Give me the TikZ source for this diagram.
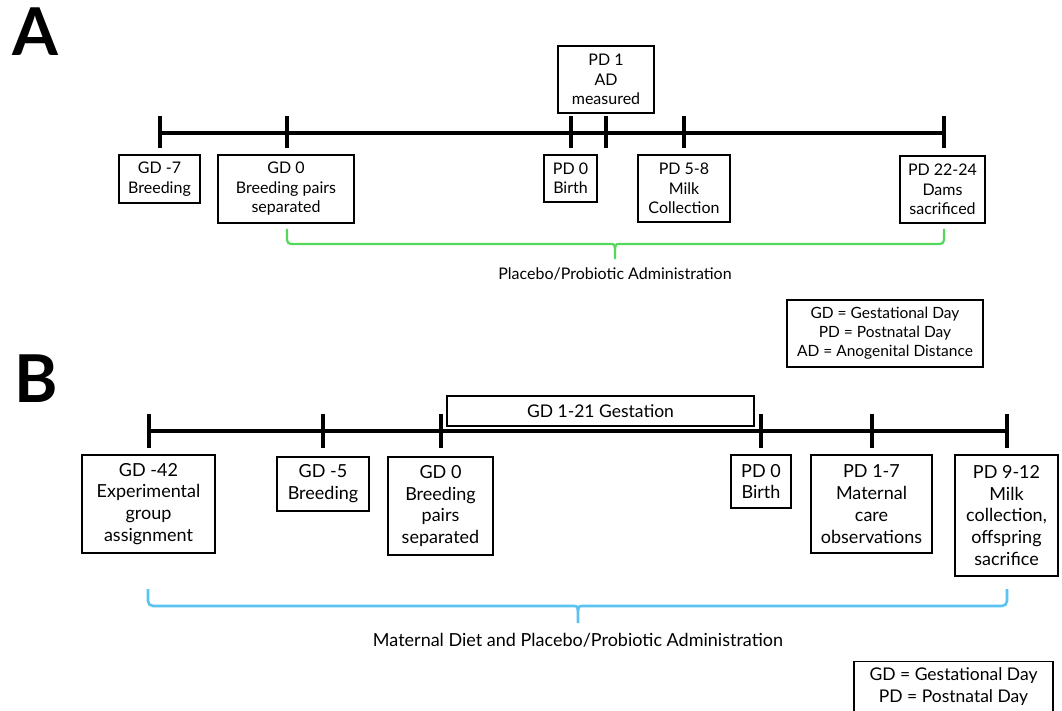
\documentclass[tikz,border=0pt]{standalone}
\usepackage{fontspec}
\setmainfont{Lato}
\begin{document}
\begin{tikzpicture}[x=1pt,y=-1pt,
  tl/.style={line width=4pt, black},
  tk/.style={line width=3.5pt, black},
  boxA/.style={draw, line width=1.4pt, align=center, inner sep=0pt,
    font=\fontsize{16}{19.5}\selectfont},
  boxB/.style={draw, line width=1.4pt, align=center, inner sep=0pt,
    font=\fontsize{18}{21.8}\selectfont},
  gbrace/.style={line width=2.2pt, color={rgb,255:red,85;green,215;blue,90}},
  bbrace/.style={line width=2.6pt, color={rgb,255:red,90;green,195;blue,240}},
  biglet/.style={font=\fontsize{66}{66}\selectfont\bfseries, inner sep=0pt}
]
\useasboundingbox (0,0) rectangle (1062,711);
\fill[white] (0,0) rectangle (1062,711);

% ---------- Panel A ----------
\node[biglet] (labA) at (35,32) {A};

\coordinate (A0) at (160,133);
\coordinate (A1) at (287,133);
\coordinate (A2) at (571,133);
\coordinate (A3) at (606,133);
\coordinate (A4) at (684,133);
\coordinate (A5) at (944,133);
\draw[tl] (A0) -- (A5);
\foreach \t in {A0,A1,A2,A3,A4,A5}
  \draw[tk] ([yshift=-15pt]\t) -- ([yshift=17pt]\t);

\node[boxA, minimum width=81pt, minimum height=48pt] (a1) at (159.5,179) {GD -7\\Breeding};
\node[boxA, minimum width=136pt, minimum height=68pt] (a2) at (286,189) {GD 0\\Breeding pairs\\separated};
\node[boxA, minimum width=96pt, minimum height=67pt] (a3) at (606,79.5) {PD 1\\AD\\measured};
\node[boxA, minimum width=53pt, minimum height=47pt] (a4) at (570.5,178.5) {PD 0\\Birth};
\node[boxA, minimum width=92pt, minimum height=67pt] (a5) at (684,188.5) {PD 5-8\\Milk\\Collection};
\node[boxA, minimum width=85pt, minimum height=67pt] (a6) at (942.5,189.5) {PD 22-24\\Dams\\sacrificed};

\coordinate (gL) at (287,229);
\coordinate (gR) at (944,229);
\coordinate (gC) at (615,259);
\draw[gbrace, rounded corners=4pt] (gL) -- (287,244) -- (611,244);
\draw[gbrace] (611,244) .. controls (615,244) .. (gC) .. controls (615,244) .. (619,244);
\draw[gbrace, rounded corners=4pt] (619,244) -- (944,244) -- (gR);
\node[font=\fontsize{16}{19}\selectfont] (gtxt) at (615,274) {Placebo/Probiotic Administration};

\node[boxA, minimum width=196pt, minimum height=67pt, font=\fontsize{15.5}{19}\selectfont] (legA) at (885,333.5)
  {GD = Gestational Day\\PD = Postnatal Day\\AD = Anogenital Distance};

% ---------- Panel B ----------
\node[biglet] (labB) at (36,379) {B};

\coordinate (B0) at (149,431);
\coordinate (B1) at (323,431);
\coordinate (B2) at (441,431);
\coordinate (B3) at (761,431);
\coordinate (B4) at (872,431);
\coordinate (B5) at (1007,431);
\draw[tl] (B0) -- (B5);
\foreach \t in {B0,B1,B2,B3,B4,B5}
  \draw[tk] ([yshift=-17pt]\t) -- ([yshift=17pt]\t);

\node[boxB, minimum width=307pt, minimum height=30pt, font=\fontsize{17.5}{21}\selectfont] (gest) at (600.5,411) {GD 1-21 Gestation};

\node[boxB, minimum width=133pt, minimum height=98pt] (b1) at (148.5,504) {GD -42\\Experimental\\group\\assignment};
\node[boxB, minimum width=92pt, minimum height=54pt] (b2) at (323,484) {GD -5\\Breeding};
\node[boxB, minimum width=105pt, minimum height=98pt] (b3) at (440.5,506) {GD 0\\Breeding\\pairs\\separated};
\node[boxB, minimum width=60pt, minimum height=53pt] (b4) at (761,481.5) {PD 0\\Birth};
\node[boxB, minimum width=121pt, minimum height=98pt] (b5) at (871.5,504) {PD 1-7\\Maternal\\care\\observations};
\node[boxB, minimum width=103pt, minimum height=121pt] (b6) at (1006.5,515.5) {PD 9-12\\Milk\\collection,\\offspring\\sacrifice};

\coordinate (bL) at (148,589);
\coordinate (bR) at (1007,589);
\coordinate (bC) at (578,623);
\draw[bbrace, rounded corners=5pt] (bL) -- (148,606) -- (574,606);
\draw[bbrace] (574,606) .. controls (578,606) .. (bC) .. controls (578,606) .. (582,606);
\draw[bbrace, rounded corners=5pt] (582,606) -- (1007,606) -- (bR);
\node[font=\fontsize{18}{21}\selectfont] (btxt) at (578,640) {Maternal Diet and Placebo/Probiotic Administration};

\node[boxB, minimum width=199pt, minimum height=64pt, anchor=north] (legB) at (953.5,661) {};
\node[font=\fontsize{17.5}{22}\selectfont, align=center] (legBt) at (953.5,687)
  {GD = Gestational Day\\PD = Postnatal Day};
\end{tikzpicture}
\end{document}
